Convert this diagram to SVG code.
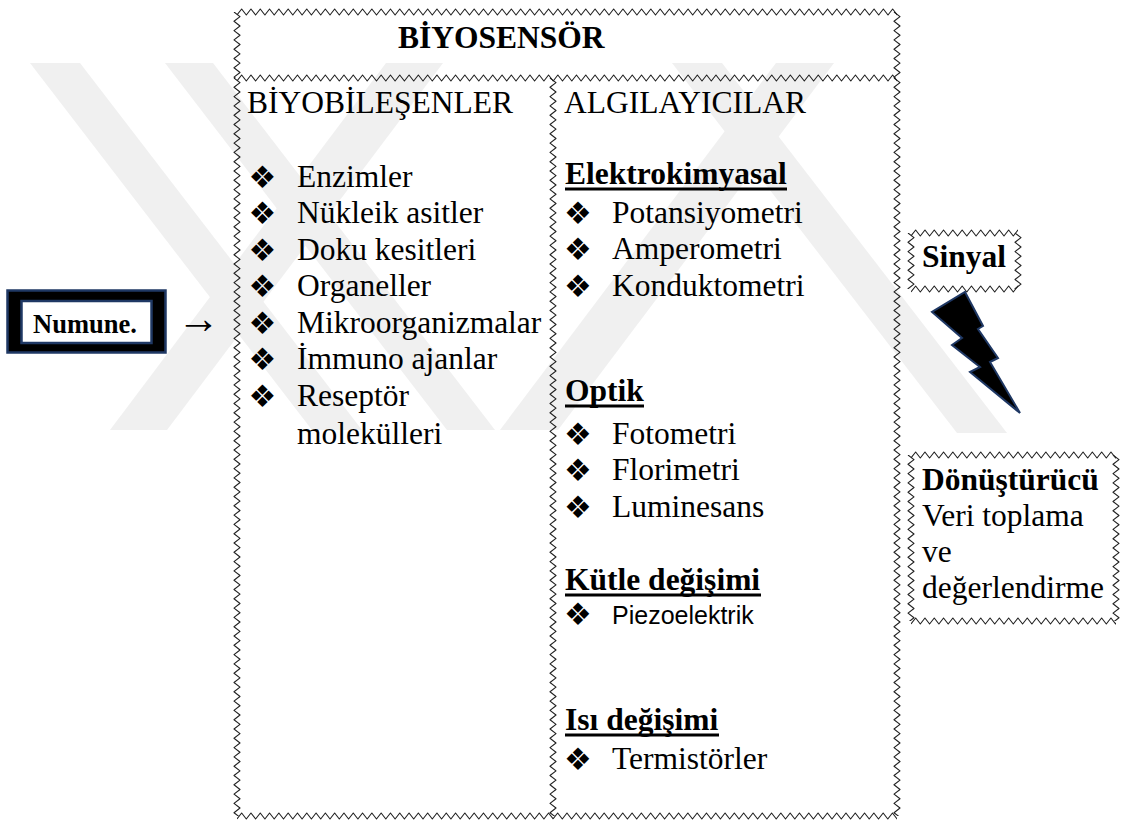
<svg xmlns="http://www.w3.org/2000/svg" width="1122" height="824" viewBox="0 0 1122 824">
<defs>
<path id="wave" fill="none" stroke="#222" stroke-width="1.1" stroke-linejoin="round" d="M0,3 l4.65,-6
4.65,6 4.65,-6 4.65,6 4.65,-6 4.65,6 4.65,-6 4.65,6 4.65,-6 4.65,6 4.65,-6
4.65,6 4.65,-6 4.65,6 4.65,-6 4.65,6 4.65,-6 4.65,6 4.65,-6 4.65,6 4.65,-6
4.65,6 4.65,-6 4.65,6 4.65,-6 4.65,6 4.65,-6 4.65,6 4.65,-6 4.65,6 4.65,-6
4.65,6 4.65,-6 4.65,6 4.65,-6 4.65,6 4.65,-6 4.65,6 4.65,-6 4.65,6 4.65,-6
4.65,6 4.65,-6 4.65,6 4.65,-6 4.65,6 4.65,-6 4.65,6 4.65,-6 4.65,6 4.65,-6
4.65,6 4.65,-6 4.65,6 4.65,-6 4.65,6 4.65,-6 4.65,6 4.65,-6 4.65,6 4.65,-6
4.65,6 4.65,-6 4.65,6 4.65,-6 4.65,6 4.65,-6 4.65,6 4.65,-6 4.65,6 4.65,-6
4.65,6 4.65,-6 4.65,6 4.65,-6 4.65,6 4.65,-6 4.65,6 4.65,-6 4.65,6 4.65,-6
4.65,6 4.65,-6 4.65,6 4.65,-6 4.65,6 4.65,-6 4.65,6 4.65,-6 4.65,6 4.65,-6
4.65,6 4.65,-6 4.65,6 4.65,-6 4.65,6 4.65,-6 4.65,6 4.65,-6 4.65,6 4.65,-6
4.65,6 4.65,-6 4.65,6 4.65,-6 4.65,6 4.65,-6 4.65,6 4.65,-6 4.65,6 4.65,-6
4.65,6 4.65,-6 4.65,6 4.65,-6 4.65,6 4.65,-6 4.65,6 4.65,-6 4.65,6 4.65,-6
4.65,6 4.65,-6 4.65,6 4.65,-6 4.65,6 4.65,-6 4.65,6 4.65,-6 4.65,6 4.65,-6
4.65,6 4.65,-6 4.65,6 4.65,-6 4.65,6 4.65,-6 4.65,6 4.65,-6 4.65,6 4.65,-6
4.65,6 4.65,-6 4.65,6 4.65,-6 4.65,6 4.65,-6 4.65,6 4.65,-6 4.65,6 4.65,-6
4.65,6 4.65,-6 4.65,6 4.65,-6 4.65,6 4.65,-6 4.65,6 4.65,-6 4.65,6 4.65,-6
4.65,6 4.65,-6 4.65,6 4.65,-6 4.65,6 4.65,-6 4.65,6 4.65,-6 4.65,6 4.65,-6"/>
<style>
.t{font-family:"Liberation Serif","Times New Roman",serif;font-size:31.5px;fill:#000}
.b{font-weight:bold}
.s{font-family:"Liberation Sans",Arial,sans-serif;font-size:25px;fill:#000}
.bul{font-family:"DejaVu Sans",sans-serif;font-size:31px;text-anchor:middle;fill:#000}
.ul{stroke:#000;stroke-width:3}
.wm{fill:#f0f0f0}
</style>
</defs>
<rect width="1122" height="824" fill="#fff"/>
<g id="watermark">
<polygon class="wm" points="30,63 80,63 362,430 312,430"/>
<polygon class="wm" points="165,63 213,63 495,430 447,430"/>
<polygon class="wm" points="110,430 167,430 443,63 386,63"/>
<polygon class="wm" points="500,430 558,430 834,63 776,63"/>
<polygon class="wm" points="672,63 722,63 1007,433 957,433"/>
</g>
<g id="biyosensor">
<svg x="237" y="6" width="660" height="12"><use href="#wave" y="6"/></svg>
<svg x="237" y="72" width="660" height="12"><use href="#wave" y="6"/></svg>
<g transform="translate(243,12) rotate(90)"><svg width="66" height="12"><use href="#wave" y="6"/></svg></g>
<g transform="translate(903,12) rotate(90)"><svg width="66" height="12"><use href="#wave" y="6"/></svg></g>
<text class="t b" x="398" y="48">BİYOSENSÖR</text>
</g>
<g id="biyobilesenler">
<g transform="translate(243,78) rotate(90)"><svg width="738" height="12"><use href="#wave" y="6"/></svg></g>
<svg x="237" y="810" width="316" height="12"><use href="#wave" y="6"/></svg>
<text class="t" x="247" y="113">BİYOBİLEŞENLER</text>
<text class="bul" x="262.5" y="188">❖</text><text class="t" x="297" y="187">Enzimler</text>
<text class="bul" x="262.5" y="224">❖</text><text class="t" x="297" y="223">Nükleik asitler</text>
<text class="bul" x="262.5" y="261">❖</text><text class="t" x="297" y="260">Doku kesitleri</text>
<text class="bul" x="262.5" y="297">❖</text><text class="t" x="297" y="296">Organeller</text>
<text class="bul" x="262.5" y="334">❖</text><text class="t" x="297" y="333">Mikroorganizmalar</text>
<text class="bul" x="262.5" y="370">❖</text><text class="t" x="297" y="369">İmmuno ajanlar</text>
<text class="bul" x="262.5" y="407">❖</text><text class="t" x="297" y="406">Reseptör</text>
<text class="t" x="297" y="444">molekülleri</text>
</g>
<g id="algilayicilar">
<g transform="translate(559,78) rotate(90)"><svg width="738" height="12"><use href="#wave" y="6"/></svg></g>
<g transform="translate(903,78) rotate(90)"><svg width="738" height="12"><use href="#wave" y="6"/></svg></g>
<svg x="553" y="810" width="344" height="12"><use href="#wave" y="6"/></svg>
<text class="t" x="564" y="113">ALGILAYICILAR</text>
<text class="t b" x="565" y="184">Elektrokimyasal</text>
<line class="ul" x1="565" y1="189" x2="787" y2="189"/>
<text class="bul" x="578" y="224">❖</text><text class="t" x="612" y="223">Potansiyometri</text>
<text class="bul" x="578" y="260">❖</text><text class="t" x="612" y="259">Amperometri</text>
<text class="bul" x="578" y="297">❖</text><text class="t" x="612" y="296">Konduktometri</text>
<text class="t b" x="565" y="401">Optik</text>
<line class="ul" x1="565" y1="406" x2="644" y2="406"/>
<text class="bul" x="578" y="445">❖</text><text class="t" x="612" y="444">Fotometri</text>
<text class="bul" x="578" y="481">❖</text><text class="t" x="612" y="480">Florimetri</text>
<text class="bul" x="578" y="518">❖</text><text class="t" x="612" y="517">Luminesans</text>
<text class="t b" x="565" y="590">Kütle değişimi</text>
<line class="ul" x1="565" y1="595" x2="761" y2="595"/>
<text class="bul" x="578" y="625">❖</text><text class="s" x="612" y="624">Piezoelektrik</text>
<text class="t b" x="565" y="730">Isı değişimi</text>
<line class="ul" x1="565" y1="735" x2="719" y2="735"/>
<text class="bul" x="578" y="770">❖</text><text class="t" x="612" y="769">Termistörler</text>
</g>
<g id="numune">
<rect x="7.5" y="290.5" width="158" height="62" fill="#000" stroke="#1f3864" stroke-width="2.5"/>
<rect x="21.5" y="301" width="130" height="42" fill="#fff" stroke="#1f3864" stroke-width="2.5"/>
<text class="t b" x="33" y="333" style="font-size:26.5px">Numune.</text>
</g>
<g id="sinyal">
<svg x="911" y="227" width="107" height="12"><use href="#wave" y="6"/></svg>
<svg x="911" y="283" width="107" height="12"><use href="#wave" y="6"/></svg>
<g transform="translate(917,233) rotate(90)"><svg width="56" height="12"><use href="#wave" y="6"/></svg></g>
<g transform="translate(1024,233) rotate(90)"><svg width="56" height="12"><use href="#wave" y="6"/></svg></g>
<text class="t b" x="922" y="267">Sinyal</text>
</g>
<g id="donusturucu">
<svg x="911" y="449" width="205" height="12"><use href="#wave" y="6"/></svg>
<svg x="911" y="615" width="205" height="12"><use href="#wave" y="6"/></svg>
<g transform="translate(917,455) rotate(90)"><svg width="166" height="12"><use href="#wave" y="6"/></svg></g>
<g transform="translate(1122,455) rotate(90)"><svg width="166" height="12"><use href="#wave" y="6"/></svg></g>
<text class="t b" x="922" y="490">Dönüştürücü</text>
<text class="t" x="922" y="526">Veri toplama</text>
<text class="t" x="922" y="562">ve</text>
<text class="t" x="922" y="598">değerlendirme</text>
</g>
<g id="connectors">
<text class="t" x="177" y="333" style="font-size:43px">→</text>
<polygon points="965,292 983,326 978,329 998,358 990,362 1020,413 970,372 980,367 952,345 962,338 932,312" fill="#000" stroke="#1f3864" stroke-width="2" stroke-linejoin="miter"/>
</g>
</svg>
